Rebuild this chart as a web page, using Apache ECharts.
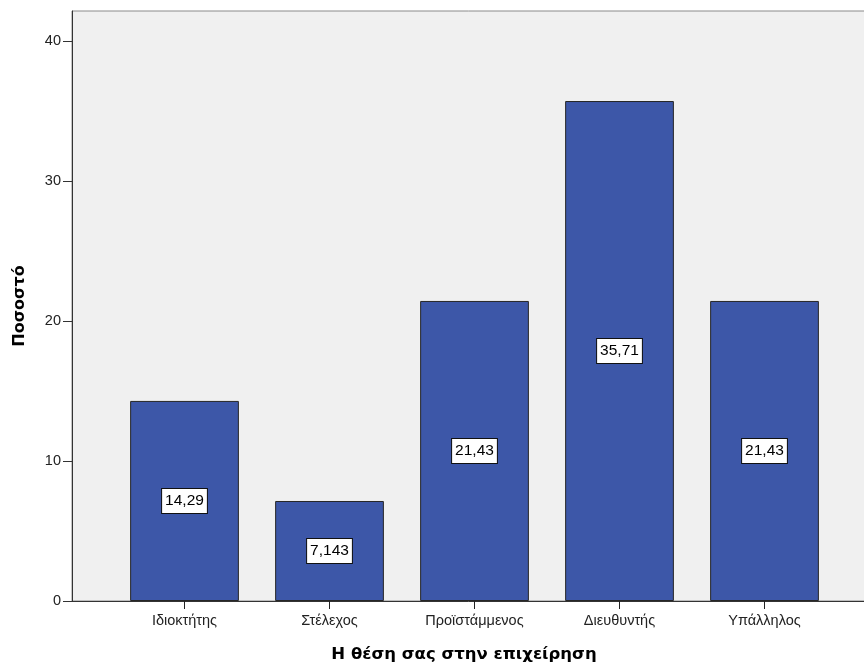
<!DOCTYPE html>
<html><head><meta charset="utf-8">
<script src="https://cdn.jsdelivr.net/npm/echarts@6/dist/echarts.min.js"></script>
<style>html,body{margin:0;padding:0;background:#fff}#c{width:864px;height:666px}</style>
</head><body><div id="c"></div>
<script>
const categories = ['Ιδιοκτήτης', 'Στέλεχος', 'Προϊστάμμενος', 'Διευθυντής', 'Υπάλληλος'];
const values = [14.29, 7.143, 21.43, 35.71, 21.43];
const yTicks = [0, 10, 20, 30, 40];
const xTitle = 'Η θέση σας στην επιχείρηση';
const yTitle = 'Ποσοστό';

const font = 'Liberation Sans, Arial, sans-serif';
const boldFont = 'DejaVu Sans, sans-serif';
const chart = echarts.init(document.getElementById('c'));
const yMax = 42.14;
chart.setOption({
  animation: false,
  title: {
    text: xTitle, left: 459, top: 641, textAlign: 'center',
    textStyle: {fontFamily: boldFont, fontSize: 16.5, fontWeight: 'bold', color: '#000'}
  },
  grid: [
    {left: 72, top: 11, right: -2, bottom: 65, show: true, backgroundColor: '#f0f0f0',
     borderColor: '#8a8a8a', borderWidth: 1, containLabel: false, outerBoundsMode: 'none'},
    {left: 112, top: 11, width: 725, bottom: 65, containLabel: false, outerBoundsMode: 'none'}
  ],
  xAxis: [
    {gridIndex: 0, type: 'value', min: 0, max: 1, show: true,
     axisLine: {show: true, lineStyle: {color: '#333', width: 1}},
     axisTick: {show: false}, axisLabel: {show: false}, splitLine: {show: false}},
    {gridIndex: 1, type: 'category', data: categories,
     axisLine: {show: false},
     axisTick: {show: true, alignWithLabel: true, length: 8, lineStyle: {color: '#222', width: 1}},
     axisLabel: {fontFamily: font, fontSize: 14.5, color: '#222', margin: 12}
    }
  ],
  yAxis: [
    {gridIndex: 0, type: 'value', min: 0, max: yMax, interval: 10,
     name: yTitle, nameLocation: 'middle', nameGap: 44,
     nameTextStyle: {fontFamily: boldFont, fontSize: 16, fontWeight: 'bold', color: '#000'},
     axisLine: {show: true, lineStyle: {color: '#333', width: 1}},
     axisTick: {show: true, length: 9, lineStyle: {color: '#333'}, customValues: yTicks},
     axisLabel: {fontFamily: font, fontSize: 14.5, color: '#222', margin: 11, customValues: yTicks},
     splitLine: {show: false}
    },
    {gridIndex: 1, type: 'value', min: 0, max: yMax, show: false, splitLine: {show: false}}
  ],
  series: [{
    type: 'bar', xAxisIndex: 1, yAxisIndex: 1, data: values,
    barCategoryGap: '25%',
    itemStyle: {color: '#3d57a8', borderColor: '#262626', borderWidth: 1},
    label: {
      show: true, position: 'inside', color: '#000',
      fontFamily: font, fontSize: 15.5,
      backgroundColor: '#fff', borderColor: '#111', borderWidth: 1,
      padding: [5, 3, 3, 3],
      formatter: p => String(p.value).replace('.', ',')
    }
  }]
});
</script></body></html>
